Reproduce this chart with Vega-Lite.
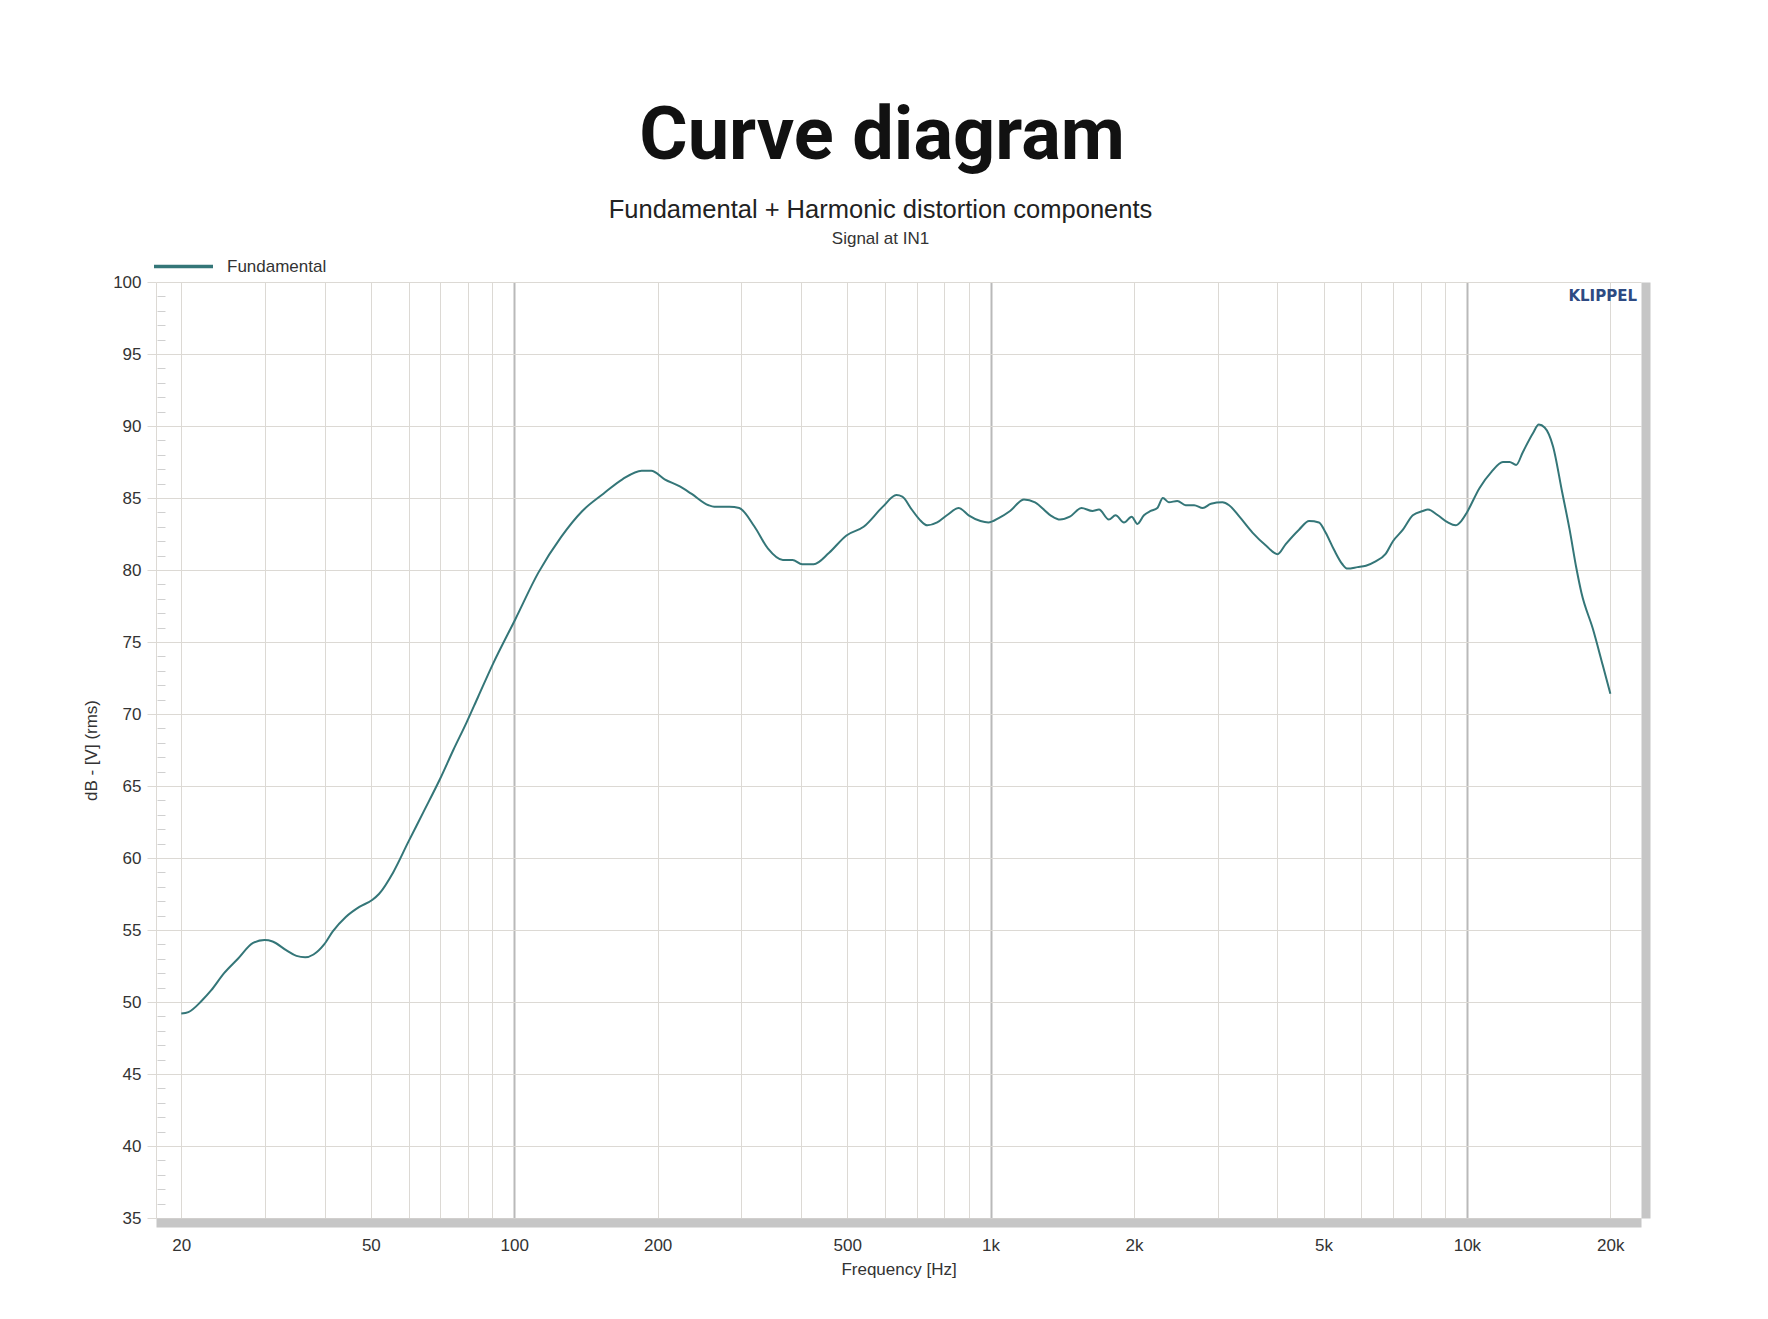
{
  "$schema": "https://vega.github.io/schema/vega-lite/v6.json",
  "background": "white",
  "padding": {"left": 82, "top": 100, "right": 10, "bottom": 10},
  "title": {
    "text": "Curve diagram",
    "font": "Roboto",
    "fontSize": 74,
    "fontWeight": "bold",
    "color": "#111111",
    "anchor": "middle",
    "dx": 18,
    "offset": 22.5
  },
  "datasets": {
    "curve": [
      {"f": 20, "db": 49.2}, {"f": 20.7, "db": 49.3}, {"f": 22.1, "db": 50.1}, {"f": 23.1, "db": 50.8},
      {"f": 24.6, "db": 52.0}, {"f": 26.3, "db": 53.0}, {"f": 28.3, "db": 54.1}, {"f": 29.9, "db": 54.3},
      {"f": 31.1, "db": 54.2}, {"f": 33.2, "db": 53.6}, {"f": 34.9, "db": 53.2}, {"f": 36.4, "db": 53.1},
      {"f": 37.9, "db": 53.3}, {"f": 39.9, "db": 54.0}, {"f": 41.6, "db": 54.9}, {"f": 44.3, "db": 55.9},
      {"f": 47.3, "db": 56.6}, {"f": 50.4, "db": 57.1}, {"f": 52, "db": 57.5}, {"f": 55.7, "db": 59.0},
      {"f": 59.9, "db": 61.1}, {"f": 64.5, "db": 63.2}, {"f": 69.9, "db": 65.5}, {"f": 74.5, "db": 67.5},
      {"f": 79.4, "db": 69.4}, {"f": 84, "db": 71.2}, {"f": 90.3, "db": 73.5}, {"f": 100.6, "db": 76.6},
      {"f": 112.3, "db": 79.8}, {"f": 125.5, "db": 82.3}, {"f": 139, "db": 84.1}, {"f": 153.9, "db": 85.3},
      {"f": 168.7, "db": 86.3}, {"f": 185.2, "db": 86.9}, {"f": 193.9, "db": 86.9}, {"f": 206.9, "db": 86.3},
      {"f": 222.7, "db": 85.8}, {"f": 235.4, "db": 85.3}, {"f": 255.8, "db": 84.5}, {"f": 263, "db": 84.4},
      {"f": 283, "db": 84.4}, {"f": 296.8, "db": 84.3}, {"f": 319.6, "db": 83.0}, {"f": 340.7, "db": 81.5},
      {"f": 366.4, "db": 80.7}, {"f": 383.9, "db": 80.7}, {"f": 402.3, "db": 80.4}, {"f": 425.3, "db": 80.4},
      {"f": 458.3, "db": 81.2}, {"f": 498.3, "db": 82.4}, {"f": 541.4, "db": 83.0}, {"f": 594.2, "db": 84.4},
      {"f": 634.3, "db": 85.2}, {"f": 652.6, "db": 85.1}, {"f": 683.2, "db": 84.2}, {"f": 709.6, "db": 83.5},
      {"f": 736.9, "db": 83.1}, {"f": 772.6, "db": 83.3}, {"f": 809.7, "db": 83.8}, {"f": 857.5, "db": 84.3},
      {"f": 899.4, "db": 83.8}, {"f": 952.5, "db": 83.4}, {"f": 989.4, "db": 83.3}, {"f": 1040, "db": 83.6},
      {"f": 1099, "db": 84.1}, {"f": 1175, "db": 84.9}, {"f": 1240, "db": 84.7}, {"f": 1336, "db": 83.8},
      {"f": 1399, "db": 83.5}, {"f": 1467, "db": 83.7}, {"f": 1552, "db": 84.3}, {"f": 1636, "db": 84.1},
      {"f": 1689, "db": 84.2}, {"f": 1771, "db": 83.5}, {"f": 1830, "db": 83.8}, {"f": 1906, "db": 83.3},
      {"f": 1978, "db": 83.7}, {"f": 2033, "db": 83.2}, {"f": 2099, "db": 83.8}, {"f": 2168, "db": 84.1},
      {"f": 2239, "db": 84.3}, {"f": 2300, "db": 85.0}, {"f": 2368, "db": 84.7}, {"f": 2466, "db": 84.8},
      {"f": 2568, "db": 84.5}, {"f": 2676, "db": 84.5}, {"f": 2789, "db": 84.3}, {"f": 2902, "db": 84.6},
      {"f": 3068, "db": 84.7}, {"f": 3168, "db": 84.5}, {"f": 3330, "db": 83.7}, {"f": 3547, "db": 82.6},
      {"f": 3785, "db": 81.7}, {"f": 4003, "db": 81.1}, {"f": 4166, "db": 81.8}, {"f": 4442, "db": 82.8},
      {"f": 4664, "db": 83.4}, {"f": 4892, "db": 83.3}, {"f": 5050, "db": 82.6}, {"f": 5261, "db": 81.4},
      {"f": 5478, "db": 80.4}, {"f": 5613, "db": 80.1}, {"f": 5892, "db": 80.2}, {"f": 6137, "db": 80.3},
      {"f": 6432, "db": 80.6}, {"f": 6744, "db": 81.1}, {"f": 6995, "db": 82.0}, {"f": 7340, "db": 82.8},
      {"f": 7700, "db": 83.8}, {"f": 8083, "db": 84.1}, {"f": 8281, "db": 84.2}, {"f": 8692, "db": 83.8},
      {"f": 9122, "db": 83.3}, {"f": 9467, "db": 83.1}, {"f": 9730, "db": 83.4}, {"f": 10000, "db": 84.0},
      {"f": 10632, "db": 85.7}, {"f": 11250, "db": 86.8}, {"f": 11902, "db": 87.5}, {"f": 12290, "db": 87.5},
      {"f": 12690, "db": 87.3}, {"f": 13110, "db": 88.2}, {"f": 13760, "db": 89.5}, {"f": 14160, "db": 90.1},
      {"f": 14560, "db": 89.9}, {"f": 15160, "db": 88.6}, {"f": 15850, "db": 85.4}, {"f": 16430, "db": 82.8},
      {"f": 16980, "db": 80.1}, {"f": 17400, "db": 78.4}, {"f": 18390, "db": 75.9}, {"f": 19280, "db": 73.4},
      {"f": 20010, "db": 71.4}
    ],
    "brand": [{"f": 23200, "db": 99, "label": "KLIPPEL"}]
  },
  "vconcat": [
    {
      "title": {
        "text": "Fundamental + Harmonic distortion components",
        "subtitle": "Signal at IN1",
        "font": "Liberation Sans",
        "fontSize": 25.5,
        "fontWeight": "normal",
        "color": "#222222",
        "subtitleFont": "Liberation Sans",
        "subtitleFontSize": 17,
        "subtitleColor": "#333333",
        "subtitlePadding": 8,
        "anchor": "middle",
        "dx": -18,
        "offset": 26
      },
      "width": 1485,
      "height": 936,
      "encoding": {
        "x": {
          "field": "f",
          "type": "quantitative",
          "scale": {"type": "log", "domain": [17.7, 23200], "nice": false},
          "axis": {
            "title": "Frequency [Hz]",
            "titleFont": "Liberation Sans",
            "titleFontSize": 17,
            "titleFontWeight": "normal",
            "titleColor": "#333333",
            "titlePadding": 8,
            "values": [20, 30, 40, 50, 60, 70, 80, 90, 100, 200, 300, 400, 500, 600, 700, 800, 900, 1000, 2000, 3000, 4000, 5000, 6000, 7000, 8000, 9000, 10000, 20000],
            "labelExpr": "indexof([20,50,100,200,500,1000,2000,5000,10000,20000], datum.value) >= 0 ? (datum.value >= 1000 ? (datum.value/1000) + 'k' : '' + datum.value) : ''",
            "labelFont": "Liberation Sans",
            "labelFontSize": 17,
            "labelColor": "#333333",
            "labelOverlap": false,
            "labelFlush": false,
            "labelPadding": 15,
            "ticks": false,
            "tickSize": 0,
            "domain": true,
            "domainColor": "#c6c6c6",
            "domainWidth": 9,
            "offset": 4.5,
            "grid": true,
            "gridColor": {"condition": {"test": "indexof([100,1000,10000], datum.value) >= 0", "value": "#b9b9b9"}, "value": "#dcd9d4"},
            "gridWidth": {"condition": {"test": "indexof([100,1000,10000], datum.value) >= 0", "value": 2}, "value": 1}
          }
        }
      },
      "layer": [
        {
          "data": {"name": "curve"},
          "mark": {"type": "line", "strokeWidth": 2, "interpolate": "monotone"},
          "encoding": {
            "y": {
              "field": "db",
              "type": "quantitative",
              "scale": {"domain": [35, 100], "nice": false, "zero": false},
              "axis": {
                "title": "dB - [V]  (rms)",
                "titleFont": "Liberation Sans",
                "titleFontSize": 17,
                "titleFontWeight": "normal",
                "titleColor": "#333333",
                "titlePadding": 12,
                "values": [35, 40, 45, 50, 55, 60, 65, 70, 75, 80, 85, 90, 95, 100],
                "labelFont": "Liberation Sans",
                "labelFontSize": 17,
                "labelColor": "#333333",
                "labelPadding": 6,
                "tickSize": 9,
                "tickColor": "#dcd9d4",
                "domain": true,
                "domainColor": "#dcd9d4",
                "grid": true,
                "gridColor": "#dcd9d4"
              }
            },
            "color": {
              "datum": "Fundamental",
              "type": "nominal",
              "scale": {"range": ["#347678"]},
              "legend": {
                "title": null,
                "orient": "none",
                "legendX": -4,
                "legendY": -47,
                "symbolType": "stroke",
                "symbolSize": 3481,
                "symbolStrokeWidth": 3.5,
                "labelFont": "Liberation Sans",
                "labelFontSize": 17,
                "labelColor": "#333333",
                "labelOffset": 12
              }
            }
          }
        },
        {
          "data": {"name": "brand"},
          "mark": {"type": "text", "align": "right", "baseline": "middle", "dx": -4, "font": "DejaVu Sans", "fontSize": 15, "fontWeight": "bold", "color": "#2e4a82"},
          "encoding": {
            "text": {"field": "label"},
            "y": {
              "field": "db",
              "type": "quantitative",
              "axis": {
                "orient": "right",
                "title": null,
                "labels": false,
                "ticks": false,
                "grid": false,
                "domain": true,
                "domainColor": "#c6c6c6",
                "domainWidth": 9,
                "offset": 4.5
              }
            }
          }
        },
        {
          "data": {"name": "curve"},
          "mark": {"type": "line", "opacity": 0},
          "encoding": {
            "y": {
              "field": "db",
              "type": "quantitative",
              "axis": {
                "orient": "left",
                "title": null,
                "labels": false,
                "grid": false,
                "domain": false,
                "values": [36, 37, 38, 39, 41, 42, 43, 44, 46, 47, 48, 49, 51, 52, 53, 54, 56, 57, 58, 59, 61, 62, 63, 64, 66, 67, 68, 69, 71, 72, 73, 74, 76, 77, 78, 79, 81, 82, 83, 84, 86, 87, 88, 89, 91, 92, 93, 94, 96, 97, 98, 99],
                "tickSize": 8,
                "tickColor": "#d0d0d0",
                "offset": -9
              }
            }
          }
        }
      ],
      "resolve": {"axis": {"y": "independent"}}
    }
  ],
  "config": {
    "view": {"stroke": null},
    "concat": {"spacing": 0}
  }
}
